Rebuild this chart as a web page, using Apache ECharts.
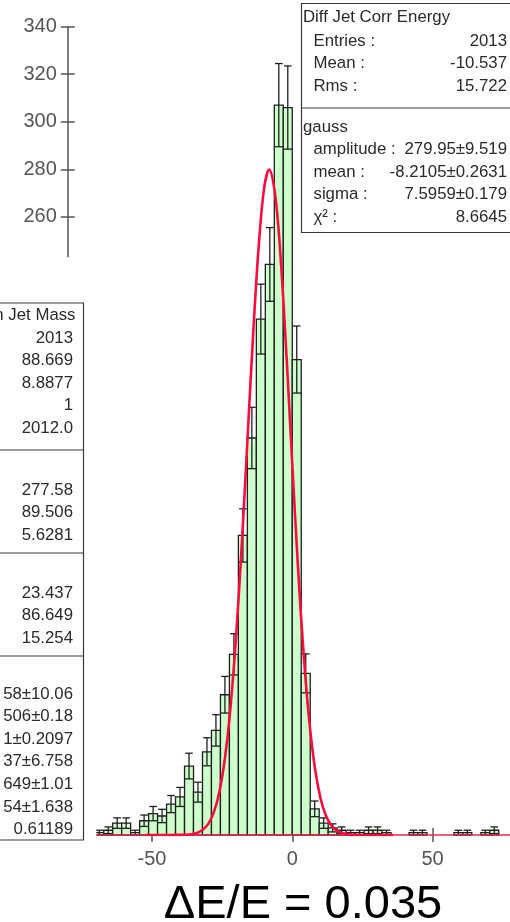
<!DOCTYPE html>
<html>
<head>
<meta charset="utf-8">
<script src="https://cdn.jsdelivr.net/npm/echarts@6/dist/echarts.min.js"></script>
<style>
html,body{margin:0;padding:0;background:#fff;}
#chart{width:510px;height:922px;}
</style>
</head>
<body>
<div id="chart"></div>
<script>
// ---------------- data ----------------
const binStart = -70.4;
const binWidth = 3.2;
const counts = [1, 2, 5, 5, 1, 6, 9, 8, 13, 16, 29, 18, 35, 44, 59, 76, 126, 167, 217, 240, 307, 306,
  200, 68, 11, 5, 3, 2, 1, 1, 2, 2, 1, 0, 0, 1, 1, 0, 0, 0, 1, 1, 0, 1, 2, 0, 0];
const errors = [1, 1.4, 2.2, 2.2, 1, 2.4, 3, 2.8, 3.6, 4, 5.4, 4.2, 5.9, 6.6, 7.7, 8.7, 11.2, 12.9, 14.7, 15.5, 17.5, 17.5,
  14.1, 8.2, 3.3, 2.2, 1.7, 1.4, 1, 1, 1.4, 1.4, 1, 0, 0, 1, 1, 0, 0, 0, 1, 1, 0, 1, 1.4, 0, 0];
const fitX = [-52.4, -44, -40, -36, -34, -32, -30, -28, -26, -24, -22, -20, -18, -16, -14, -12, -10, -8.2,
  -6, -4, -2, 0, 2, 4, 6, 8, 10, 12, 14, 16, 18, 20, 24, 28, 36];
const fitY = [0, 0, 0.04, 0.35, 0.88, 2.07, 4.57, 9.4, 18.0, 32.3, 53.9, 83.9, 122.0, 165.5, 209.4, 247.2, 272.3, 279.95,
  268.4, 240.1, 200.4, 156.1, 113.4, 76.9, 48.7, 28.7, 15.8, 8.12, 3.89, 1.74, 0.73, 0.28, 0.03, 0, 0];
const xTickValues = [-50, 0, 50];
const yTickValues = [260, 280, 300, 320, 340];
const bottomTitle = 'ΔE/E = 0.035';

const rightTitle = 'Diff Jet Corr Energy';
const rightLabels1 = ['Entries :', 'Mean :', 'Rms :'];
const rightValues1 = ['2013', '-10.537', '15.722'];
const rightTitle2 = 'gauss';
const rightLabels2 = ['amplitude :', 'mean :', 'sigma :', 'χ² :'];
const rightValues2 = ['279.95±9.519', '-8.2105±0.2631', '7.5959±0.179', '8.6645'];

const leftTitle = 'n Jet Mass';
const leftValues1 = ['2013', '88.669', '8.8877', '1', '2012.0'];
const leftValues2 = ['277.58', '89.506', '5.6281'];
const leftValues3 = ['23.437', '86.649', '15.254'];
const leftValues4 = ['58±10.06', '506±0.18', '1±0.2097', '37±6.758', '649±1.01', '54±1.638', '0.61189'];

// ---------------- build ----------------
const histData = counts.map((c, i) => [
  +(binStart + i * binWidth).toFixed(2), +(binStart + (i + 1) * binWidth).toFixed(2), c, errors[i]
]);
const fitData = fitX.map((x, i) => [x, fitY[i]]);

const X_MIN = -80, X_MAX = 77.6;
const GRID_L = 67.8, GRID_T = 26.7, GRID_B = 87;
const Y_AXIS_BOTTOM = 256.7;
const textFont = '16.8px "Liberation Sans"';
const textColor = '#2a2a2a';
const boxStroke = '#3a3a3a';
const ROW = 22.6;

const graphics = [];
function T(text, x, y, align) {
  graphics.push({ type: 'text', z: 110, silent: true,
    style: { text: text, x: x, y: y, font: textFont, fill: textColor, align: align, verticalAlign: 'middle' } });
}
function L(x1, y1, x2, y2) {
  graphics.push({ type: 'line', z: 110, silent: true, shape: { x1: x1, y1: y1, x2: x2, y2: y2 },
    style: { stroke: boxStroke, lineWidth: 1.2 } });
}
// white mask at the left (covers lower y-axis part / axis start)
graphics.push({ type: 'rect', z: 100, silent: true, shape: { x: 0, y: Y_AXIS_BOTTOM + 0.8, width: 96.3, height: 700 },
  style: { fill: '#fff' } });
// left box
graphics.push({ type: 'rect', z: 105, silent: true, shape: { x: -10, y: 303, width: 93.5, height: 537 },
  style: { fill: '#fff', stroke: boxStroke, lineWidth: 1.2 } });
L(0, 450, 83.5, 450); L(0, 553, 83.5, 553); L(0, 656, 83.5, 656);
const LX = 73;
T(leftTitle, 75.5, 315, 'right');
leftValues1.forEach((v, i) => T(v, LX, 338 + i * ROW, 'right'));
leftValues2.forEach((v, i) => T(v, LX, 490 + i * ROW, 'right'));
leftValues3.forEach((v, i) => T(v, LX, 593 + i * ROW, 'right'));
leftValues4.forEach((v, i) => T(v, LX, 694 + i * ROW, 'right'));
// right box
graphics.push({ type: 'rect', z: 105, silent: true, shape: { x: 301.5, y: 3.5, width: 220, height: 229 },
  style: { fill: '#fff', stroke: boxStroke, lineWidth: 1.2 } });
L(301.5, 108, 512, 108);
T(rightTitle, 303, 17, 'left');
rightLabels1.forEach((v, i) => T(v, 313.5, 41 + i * ROW, 'left'));
rightValues1.forEach((v, i) => T(v, 507, 41 + i * ROW, 'right'));
T(rightTitle2, 303, 127, 'left');
rightLabels2.forEach((v, i) => T(v, 313.5, 149.6 + i * ROW, 'left'));
rightValues2.forEach((v, i) => T(v, 507, 149.6 + i * ROW, 'right'));
// bottom title
graphics.push({ type: 'text', z: 110, silent: true,
  style: { text: bottomTitle, x: 303, y: 905, font: '47px "Liberation Sans"', fill: '#000', align: 'center', verticalAlign: 'middle' } });

const axisGray = '#555';
const chart = echarts.init(document.getElementById('chart'), null, { renderer: 'canvas' });
chart.setOption({
  animation: false,
  backgroundColor: '#fff',
  grid: [
    { left: GRID_L, right: 0, top: GRID_T, bottom: GRID_B },
    { left: GRID_L, right: 0, top: GRID_T, bottom: 922 - Y_AXIS_BOTTOM },
    { left: GRID_L, right: 0, top: GRID_T, bottom: 922 - Y_AXIS_BOTTOM }
  ],
  xAxis: [
    { gridIndex: 0, type: 'value', min: X_MIN, max: X_MAX, offset: -7,
      axisLine: { show: false, onZero: false },
      axisTick: { show: true, length: 14, customValues: xTickValues, lineStyle: { color: axisGray, width: 1.5 } },
      axisLabel: { show: true, customValues: xTickValues, margin: 21, color: axisGray, fontSize: 20, fontFamily: 'Liberation Sans' },
      splitLine: { show: false } },
    { gridIndex: 1, type: 'value', min: X_MIN, max: X_MAX, show: false, axisLine: { onZero: false } },
    { gridIndex: 2, type: 'value', min: X_MIN, max: X_MAX, show: false, axisLine: { onZero: false } }
  ],
  yAxis: [
    { gridIndex: 0, type: 'value', min: 0, max: 340, show: false, axisLine: { onZero: false } },
    { gridIndex: 1, type: 'value', min: 243.25, max: 340,
      axisLine: { show: true, onZero: false, lineStyle: { color: axisGray, width: 1.5 } },
      axisTick: { show: true, length: 7, customValues: yTickValues, lineStyle: { color: axisGray, width: 1.5 } },
      axisLabel: { show: true, customValues: yTickValues, margin: 11, color: axisGray, fontSize: 20, fontFamily: 'Liberation Sans' },
      splitLine: { show: false } },
    { gridIndex: 2, type: 'value', min: 243.25, max: 340,
      axisLine: { show: false, onZero: false },
      axisTick: { show: true, inside: true, length: 7, customValues: yTickValues, lineStyle: { color: axisGray, width: 1.5 } },
      axisLabel: { show: false },
      splitLine: { show: false } }
  ],
  series: [
    {
      type: 'custom', xAxisIndex: 0, yAxisIndex: 0, z: 2,
      data: histData,
      encode: { x: [0, 1], y: 2 },
      clip: false,
      renderItem: function (params, api) {
        const c = api.value(2);
        if (!c) return { type: 'group', children: [] };
        const lo = api.value(0), hi = api.value(1), e = api.value(3);
        const p0 = api.coord([lo, 0]);
        const p1 = api.coord([hi, c]);
        const xc = (p0[0] + p1[0]) / 2;
        const yTop = api.coord([lo, c + e])[1];
        const yBot = api.coord([lo, Math.max(0, c - e)])[1];
        const st = { stroke: '#1e1e1e', lineWidth: 1.3 };
        return {
          type: 'group',
          children: [
            { type: 'rect', shape: { x: p0[0], y: p1[1], width: p1[0] - p0[0], height: p0[1] - p1[1] },
              style: { fill: '#ccffcc', stroke: '#1e1e1e', lineWidth: 1.3 } },
            { type: 'line', shape: { x1: xc, y1: yTop, x2: xc, y2: yBot }, style: st },
            { type: 'line', shape: { x1: xc - 3.8, y1: yTop, x2: xc + 3.8, y2: yTop }, style: st },
            { type: 'line', shape: { x1: p0[0], y1: yBot, x2: p1[0], y2: yBot }, style: st }
          ]
        };
      }
    },
    {
      type: 'line', xAxisIndex: 0, yAxisIndex: 0, z: 5,
      data: fitData, smooth: 0.35, showSymbol: false, symbol: 'none',
      lineStyle: { color: '#ff0a3c', width: 2.6 },
      markLine: {
        silent: true, symbol: ['none', 'none'], label: { show: false },
        lineStyle: { color: '#ee2a4f', width: 1.6, type: 'solid' },
        data: [{ yAxis: 0 }]
      }
    }
  ],
  graphic: graphics
});
</script>
</body>
</html>
